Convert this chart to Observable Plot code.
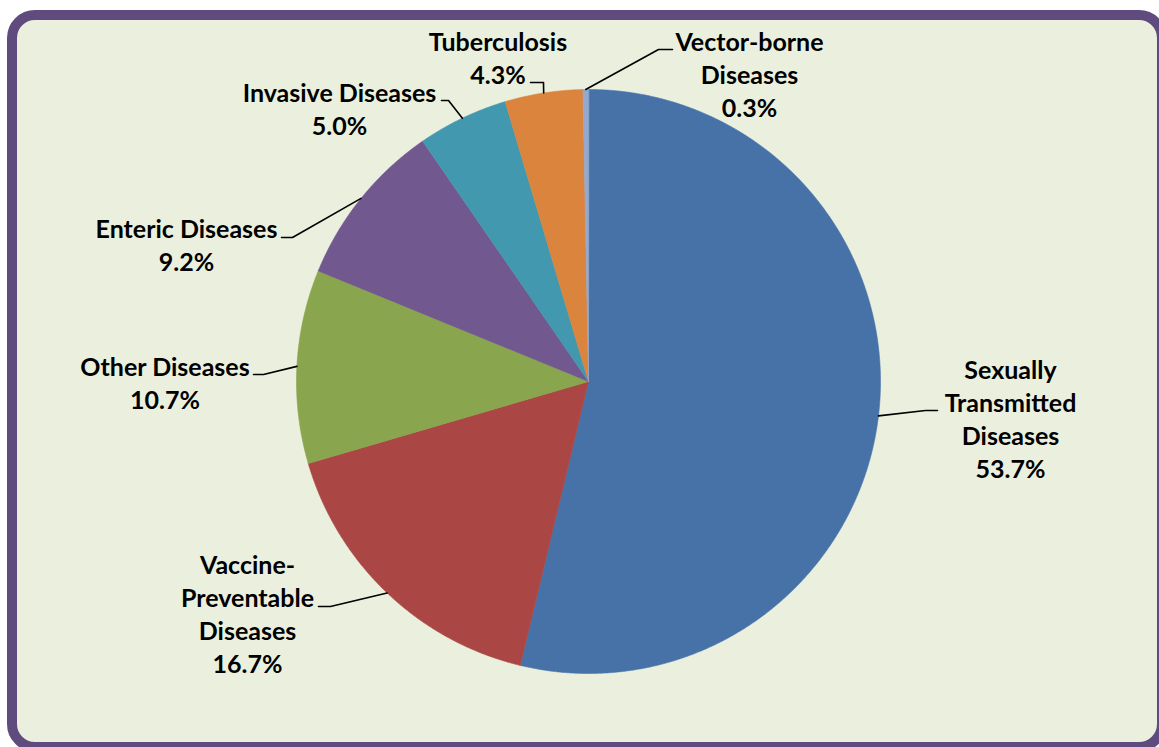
<!DOCTYPE html>
<html><head><meta charset="utf-8">
<script src="https://cdn.jsdelivr.net/npm/d3@7"></script>
<script src="https://cdn.jsdelivr.net/npm/@observablehq/plot@0.6"></script>
<style>
body{margin:0;background:#fff;width:1159px;height:747px;overflow:hidden;position:relative;}
#frame{position:absolute;left:7px;top:10px;width:1160px;height:742px;box-sizing:border-box;border:10px solid #5f4b7d;border-radius:28px;background:#ebf0de;}
#chart{position:absolute;left:0;top:0;}
</style></head><body>
<div id="frame"></div><div id="chart"></div>
<script>
// ---- data ----
const categories = ["Sexually Transmitted Diseases", "Vaccine-Preventable Diseases", "Other Diseases", "Enteric Diseases", "Invasive Diseases", "Tuberculosis", "Vector-borne Diseases"];
const percentages = [53.7, 16.7, 10.7, 9.2, 5.0, 4.3, 0.3];
const labelLines = [["Sexually", "Transmitted", "Diseases"], ["Vaccine-", "Preventable", "Diseases"], ["Other Diseases"], ["Enteric Diseases"], ["Invasive Diseases"], ["Tuberculosis"], ["Vector-borne", "Diseases"]];
const colors = ["#4672a8", "#aa4644", "#89a54e", "#71588f", "#4198af", "#db843d", "#93a9cf"];

// ---- layout (pixels) ----
const W = 1159, H = 747, cx = 588, cy = 381, R = 292;
const labelCenter = [[1010, 417], [247, 612.5], [164.5, 381], [186, 243], [339, 107.5], [497.5, 56], [749, 72.5]];
const leaderBend = [[925, 410], [330, 606], [263, 374], [292, 237], [448, 100], [543, 82], [658, 49]];
const leaderEnd = [[937, 410], [318, 606], [253, 374], [281, 237], [441, 100], [530, 82], [672, 49]];
const FS = 25, LH = 33;

const toU = ([px, py]) => ({x: (px - cx) / R, y: (cy - py) / R});

const arcs = d3.pie().sort(null).value(d => d)(percentages);
const slicePts = [];
const leaderPts = [];
const labels = [];
arcs.forEach((a, i) => {
  const name = categories[i];
  slicePts.push({name, color: colors[i], x: 0, y: 0});
  const step = Math.PI / 720;
  const n = Math.max(2, Math.ceil((a.endAngle - a.startAngle) / step));
  for (let k = 0; k <= n; k++) {
    const t = a.startAngle + (a.endAngle - a.startAngle) * k / n;
    slicePts.push({name, color: colors[i], x: Math.sin(t), y: Math.cos(t)});
  }
  const mid = (a.startAngle + a.endAngle) / 2;
  leaderPts.push({name, x: Math.sin(mid), y: Math.cos(mid)});
  leaderPts.push({name, ...toU(leaderBend[i])});
  leaderPts.push({name, ...toU(leaderEnd[i])});
  labels.push({name, ...toU(labelCenter[i]), text: [...labelLines[i], percentages[i].toFixed(1) + "%"].join("\n")});
});

const chart = Plot.plot({
  width: W, height: H, margin: 0,
  x: {domain: [-1, 1], range: [cx - R, cx + R], axis: null},
  y: {domain: [-1, 1], range: [cy + R, cy - R], axis: null},
  color: {type: "identity"},
  style: {background: "transparent", overflow: "visible"},
  marks: [
    Plot.line(slicePts, {x: "x", y: "y", z: "name", fill: "color", stroke: "color", strokeWidth: 0.6, curve: "linear-closed"}),
    Plot.line(leaderPts, {x: "x", y: "y", z: "name", stroke: "#000", strokeWidth: 1.6}),
    Plot.text(labels, {x: "x", y: "y", text: "text", fontSize: FS, fontWeight: "bold", fontFamily: "Lato", lineHeight: LH / FS, fill: "#000", textAnchor: "middle", lineAnchor: "middle"})
  ]
});
document.getElementById("chart").appendChild(chart);
</script>
</body></html>
